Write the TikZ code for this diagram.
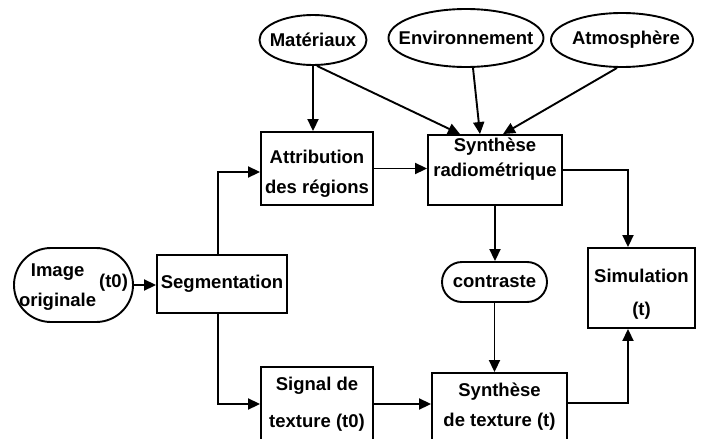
\documentclass[tikz,border=0pt]{standalone}
\usepackage{fontspec}
\setmainfont{Liberation Sans}
\usetikzlibrary{arrows.meta,shapes.geometric}
\begin{document}
\begin{tikzpicture}[x=1pt,y=-1pt,
  every node/.style={font=\fontsize{18.5}{30}\selectfont\bfseries, inner sep=0pt},
  box/.style={draw, line width=1.9pt, rectangle, align=center},
  oval/.style={draw, line width=1.9pt, ellipse},
  pill/.style={draw, line width=1.9pt, rectangle, rounded corners=#1, align=center},
  arr/.style={line width=1.9pt, -{Triangle[length=12pt,width=11pt]}}]
\useasboundingbox (0,0) rectangle (707,439);
\clip (0,0) rectangle (707,439);

% inputs
\node[oval, minimum width=107pt, minimum height=50pt] (mat) at (313,40) {\makebox[0pt]{Matériaux}};
\node[oval, minimum width=155pt, minimum height=58pt] (env) at (466,38) {\makebox[0pt]{Environnement}};
\node[oval, minimum width=142pt, minimum height=54pt] (atm) at (622,40) {\makebox[0pt]{\hspace{8pt}Atmosphère}};

% boxes
\node[box, minimum width=112pt, minimum height=73pt] (att) at (317,168.5)
  {\rule{0pt}{23pt}Attribution\\des régions};
\node[box, minimum width=134pt, minimum height=70pt,
  font=\fontsize{18.5}{25}\selectfont\bfseries] (sr) at (495,170)
  {Synthèse\\radiométrique\\\mbox{}};
\node[box, minimum width=107pt, minimum height=80pt,
  font=\fontsize{18.5}{33}\selectfont\bfseries] (sim) at (641.5,288)
  {\rule{0pt}{25pt}Simulation\\(t)};
\node[box, minimum width=130pt, minimum height=58pt] (seg) at (222,284) {Segmentation};
\node[pill=20pt, minimum width=105pt, minimum height=40pt] (con) at (494.5,282) {contraste};
\node[pill=37pt, minimum width=119pt, minimum height=74pt] (img) at (73.5,285)
  {\begin{tabular}{@{}c@{}}Image\\originale\end{tabular}\hspace{3pt}\raisebox{2pt}{(t0)}};
\node[box, minimum width=112pt, minimum height=74pt,
  font=\fontsize{18.5}{37}\selectfont\bfseries] (sig) at (317,404)
  {Signal de\\texture (t0)};
\node[box, minimum width=135pt, minimum height=68pt] (stx) at (499.5,407)
  {Synthèse\\de texture (t)};

% connectors
\draw[arr] (mat.south) -- (mat.south |- att.north);
\draw[arr] ([xshift=4pt]mat.south) -- ([xshift=-35pt]sr.north);
\draw[arr] ([xshift=7pt]env.south) -- ([xshift=-15pt]sr.north);
\draw[arr] ([xshift=-5pt]atm.south) -- ([xshift=8pt]sr.north);
\draw[arr] (att.east) -- (att.east -| sr.west);
\draw[arr] (sr.east) -| ([xshift=-13.5pt]sim.north);
\draw[arr] (sr.south) -- (sr.south |- con.north);
\draw[arr] (con.south) -- (con.south |- stx.north);
\draw[arr] ([yshift=4pt]stx.east) -| ([xshift=-13.5pt]sim.south);
\draw[arr] (sig.east) -- (sig.east -| stx.west);
\draw[arr] (img.east) -- (img.east -| seg.west);
\draw[arr] ([xshift=-4pt]seg.north) |- ([yshift=-3.5pt]att.west);
\draw[arr] ([xshift=-4pt]seg.south) |- (sig.west);
\end{tikzpicture}
\end{document}
